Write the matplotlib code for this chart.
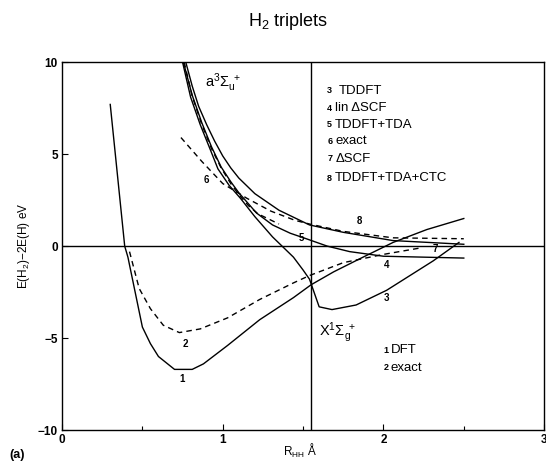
import matplotlib
matplotlib.use("Agg")
import matplotlib.pyplot as plt

plt.rcParams['font.family'] = ['Liberation Sans', 'DejaVu Sans']
plt.rcParams['mathtext.fontset'] = 'custom'
plt.rcParams['mathtext.rm'] = 'Liberation Sans'
plt.rcParams['mathtext.it'] = 'Liberation Sans'

# ground state X1Sg+
r1 = [0.30, 0.39, 0.41, 0.50, 0.55, 0.60, 0.70, 0.81, 0.88, 1.03, 1.23, 1.44, 1.55, 1.69, 1.85, 2.06, 2.27, 2.50]
e1 = [7.7, 0.0, -0.6, -4.4, -5.3, -6.0, -6.7, -6.7, -6.4, -5.4, -4.0, -2.8, -2.1, -1.4, -0.7, 0.2, 0.9, 1.5]
r2 = [0.42, 0.48, 0.55, 0.63, 0.73, 0.86, 1.03, 1.23, 1.44, 1.54, 1.75, 2.00, 2.23]
e2 = [-0.3, -2.3, -3.4, -4.3, -4.7, -4.5, -3.9, -2.9, -2.0, -1.6, -0.9, -0.45, -0.1]

# triplet a3Su+
r3 = [0.75, 0.80, 0.86, 0.92, 0.97, 1.04, 1.11, 1.20, 1.31, 1.44, 1.50, 1.54, 1.60, 1.68, 1.83, 2.02, 2.31, 2.47]
e3 = [10.0, 8.1, 6.6, 5.3, 4.2, 3.3, 2.6, 1.6, 0.5, -0.6, -1.3, -1.8, -3.3, -3.45, -3.2, -2.4, -0.8, 0.2]
r5 = [0.755, 0.81, 0.87, 0.93, 0.99, 1.05, 1.10, 1.16, 1.21, 1.31, 1.42, 1.52, 1.65, 1.79, 2.00, 2.50]
e5 = [10.0, 8.2, 6.7, 5.4, 4.3, 3.5, 2.9, 2.3, 1.8, 1.15, 0.7, 0.4, 0.0, -0.3, -0.55, -0.65]
r6 = [0.74, 0.87, 1.00, 1.15, 1.30, 1.45, 1.54, 1.75, 2.06, 2.50]
e6 = [5.9, 4.6, 3.4, 2.6, 1.9, 1.4, 1.2, 0.8, 0.45, 0.4]
r7 = [0.76, 0.81, 0.87, 0.93, 0.99, 1.05, 1.10, 1.16, 1.22, 1.35]
e7 = [10.0, 8.15, 6.6, 5.3, 4.25, 3.4, 2.8, 2.2, 1.75, 1.2]
r8 = [0.77, 0.81, 0.85, 0.90, 0.95, 1.00, 1.05, 1.10, 1.20, 1.35, 1.54, 1.75, 2.06, 2.50]
e8 = [10.0, 8.7, 7.6, 6.6, 5.7, 4.9, 4.25, 3.7, 2.85, 1.95, 1.15, 0.75, 0.3, 0.1]

labels = ['1', '2', '3', '4', '5', '6', '7', '8']
label_pos = [(0.75, -7.2), (0.77, -5.3), (2.02, -2.8), (2.02, -1.0),
             (1.49, 0.45), (0.90, 3.6), (2.32, -0.15), (1.85, 1.35)]
triplet_names = ['TDDFT', 'lin \u0394SCF', 'TDDFT+TDA', 'exact', '\u0394SCF', 'TDDFT+TDA+CTC']
ground_names = ['DFT', 'exact']

fig = plt.figure(figsize=(5.46, 4.67), dpi=100)
ax = fig.add_axes([0.1136, 0.079, 0.883, 0.788])

lw = 1.0
dash = (0, (4, 3))
ax.plot(r1, e1, color='black', lw=lw)
ax.plot(r2, e2, color='black', lw=lw, linestyle=dash)
ax.plot(r3, e3, color='black', lw=lw)
ax.plot(r5, e5, color='black', lw=lw)
ax.plot(r6, e6, color='black', lw=lw, linestyle=dash)
ax.plot(r7, e7, color='black', lw=lw, linestyle=dash)
ax.plot(r8, e8, color='black', lw=lw)

ax.axhline(0, color='black', lw=lw)
ax.axvline(1.55, color='black', lw=lw)

for lab, (x, y) in zip(labels, label_pos):
    ax.text(x, y, lab, fontsize=7, fontweight='bold', ha='center', va='center')

# legend-like text blocks
ys = [8.45, 7.5, 6.6, 5.7, 4.75, 3.7]
for i, (num, name) in enumerate(zip(labels[2:], triplet_names)):
    ax.text(1.65, ys[i], num, fontsize=6.5, fontweight='bold', va='center', ha='left')
    ax.text(1.70 if i else 1.72, ys[i], name, fontsize=9.5, va='center', ha='left')
for i, (num, name) in enumerate(zip(labels[:2], ground_names)):
    y = [-5.65, -6.6][i]
    ax.text(2.0, y, num, fontsize=6.5, fontweight='bold', va='center', ha='left')
    ax.text(2.045, y, name, fontsize=9.5, va='center', ha='left')

ax.text(0.89, 8.9, r'a$^3\Sigma_u^{\ +}$', fontsize=10.5, va='center')
ax.text(1.6, -4.7, r'X$^1\Sigma_g^{\ +}$', fontsize=10.5, va='center')

ax.set_xlim(0, 3)
ax.set_ylim(-10, 10)
ax.set_xticks([0, 1, 2, 3])
ax.set_xticks([0.5, 1.5, 2.5], minor=True)
ax.set_yticks([-10, -5, 0, 5, 10])
ax.tick_params(direction='in', length=4, labelsize=8.5, width=0.8, pad=3)
ax.tick_params(which='minor', direction='in', length=3, width=0.8)
for t in ax.get_xticklabels() + ax.get_yticklabels():
    t.set_fontweight('bold')
for s in ax.spines.values():
    s.set_linewidth(1.0)

ax.set_ylabel(r'E(H$_2$)$-$2E(H) eV', fontsize=8.5, labelpad=4)
fig.text(0.55, 0.035, r'R$_{HH}$ Å', fontsize=8.5, ha='center', va='center')
fig.text(0.527, 0.953, r'H$_2$ triplets', fontsize=13, ha='center', va='center')
fig.text(0.018, 0.025, '(a)', fontsize=9, fontweight='bold', ha='left', va='center')

fig.savefig('out.png', dpi=100)
